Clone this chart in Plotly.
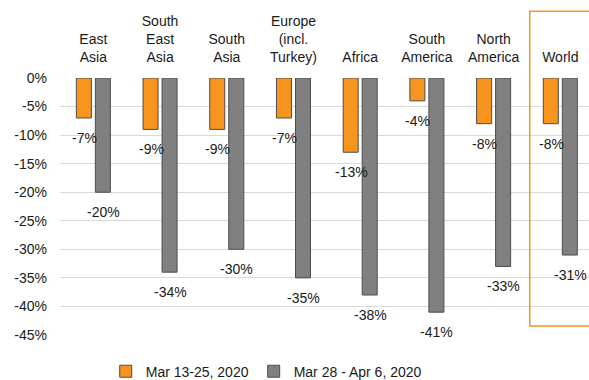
import plotly.graph_objects as go

categories = ["East<br>Asia", "South<br>East<br>Asia", "South<br>Asia", "Europe<br>(incl.<br>Turkey)",
              "Africa", "South<br>America", "North<br>America", "World"]
series1_name = "Mar 13-25, 2020"
series2_name = "Mar 28 - Apr 6, 2020"
series1 = [-7, -9, -9, -7, -13, -4, -8, -8]
series2 = [-20, -34, -30, -35, -38, -41, -33, -31]
y_ticks = [0, -5, -10, -15, -20, -25, -30, -35, -40, -45]
y_ticktext = [f"{v}%" for v in y_ticks]

ORANGE = "#F7941D"
GRAY = "#808080"
FONT = "Liberation Sans, Arial, sans-serif"

fig = go.Figure()
fig.add_trace(go.Bar(x=categories, y=series1, name=series1_name,
                     marker=dict(color=ORANGE, line=dict(color="#4d4d4d", width=1))))
fig.add_trace(go.Bar(x=categories, y=series2, name=series2_name,
                     marker=dict(color=GRAY, line=dict(color="#4d4d4d", width=1))))

annotations = []
for c, v in zip(categories, series1):
    annotations.append(dict(x=c, y=v, text=f"{v}%", showarrow=False, xref="x", yref="y",
                            xshift=-9, yshift=-20, font=dict(size=14, color="#1a1a1a", family=FONT)))
for c, v in zip(categories, series2):
    annotations.append(dict(x=c, y=v, text=f"{v}%", showarrow=False, xref="x", yref="y",
                            xshift=10, yshift=-20, font=dict(size=14, color="#1a1a1a", family=FONT)))

fig.update_layout(
    width=589, height=380,
    margin=dict(l=60, r=0, t=78, b=45),
    paper_bgcolor="white", plot_bgcolor="white",
    font=dict(family=FONT, size=14, color="#1a1a1a"),
    barmode="group", bargap=0.43, bargroupgap=0.21,
    showlegend=True,
    legend=dict(orientation="h", xref="container", yref="container", x=0.452, xanchor="center",
                y=0.022, yanchor="middle", font=dict(size=14, color="#1a1a1a"),
                itemwidth=30, tracegroupgap=0),
    annotations=annotations,
    shapes=[dict(type="rect", xref="paper", yref="paper", x0=0.888, x1=1.05, y0=0.035, y1=1.26,
                 line=dict(color=ORANGE, width=1.5), fillcolor="rgba(0,0,0,0)", layer="above")],
)
fig.update_xaxes(side="top", range=[-0.5, 7.43], showgrid=False, showline=False, ticks="",
                 ticklabelstandoff=12, tickfont=dict(size=14, color="#1a1a1a"))
fig.update_yaxes(range=[-45, 0], tickvals=y_ticks, ticktext=y_ticktext, showgrid=True,
                 gridcolor="#d9d9d9", gridwidth=1, zeroline=False, showline=False,
                 ticklabelstandoff=12, tickfont=dict(size=14, color="#1a1a1a"))

fig.write_html("out.html")
